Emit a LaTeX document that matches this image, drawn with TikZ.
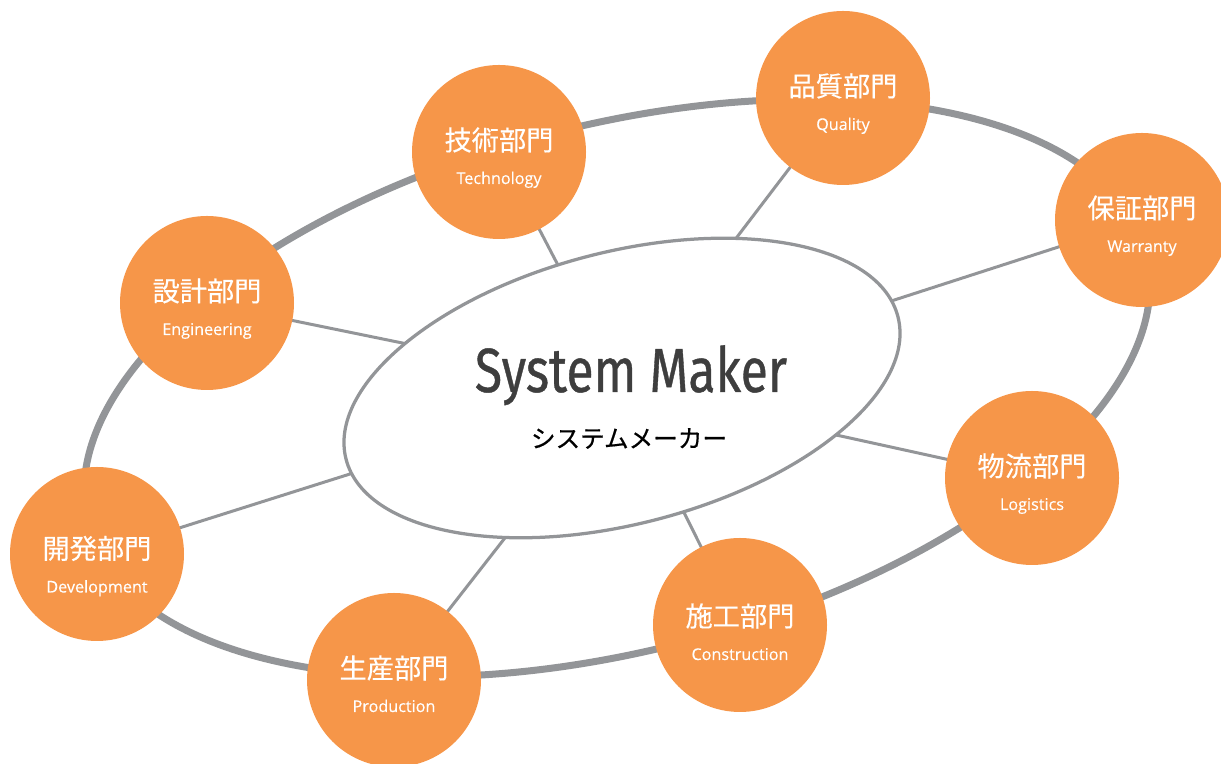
\documentclass[tikz,border=0pt]{standalone}
\usepackage{graphicx}
\usepackage{fontspec}
\setmainfont{Open Sans}[FakeBold=0.3]
\newfontfamily\jpfont{Noto Sans CJK JP}[FakeBold=0.3]
\newfontfamily\subfont{Noto Sans CJK JP}[FakeBold=0.6]
\newfontfamily\titlefont{Fira Sans}[FakeBold=0.7]
\definecolor{deptorange}{RGB}{246,150,73}
\definecolor{ringgray}{RGB}{147,149,152}
\definecolor{titlegray}{RGB}{62,62,62}

\begin{document}
\begin{tikzpicture}[
  ring/.style={draw=ringgray, line width=0.14cm},
  spoke/.style={draw=ringgray, line width=0.06cm},
  core/.style={draw=ringgray, line width=0.065cm, fill=white},
  dept/.style={circle, fill=deptorange, minimum size=3.48cm, inner sep=0pt},
  deptjp/.style={text=white, font=\jpfont\fontsize{15.5}{18}\selectfont},
  depten/.style={text=white, font=\fontsize{9.2}{11}\selectfont, anchor=base},
]
\useasboundingbox (0,0) rectangle (24.42,15.28);

% name / x / y / text shift / label
\def\deptlist{tech/9.98/12.24/0/技術部門/Technology,
  qual/16.86/13.32/0/品質部門/Quality,
  warr/22.84/10.88/0/保証部門/Warranty,
  engi/4.14/9.22/0/設計部門/Engineering,
  logi/20.64/5.72/0/物流部門/Logistics,
  deve/1.94/4.20/-0.13/開発部門/Development,
  cons/14.80/2.78/-0.06/施工部門/Construction,
  prod/7.88/1.68/0/生産部門/Production}

% Outer ring
\coordinate (ringc) at (12.34,7.52);
\draw[ring] (ringc) circle [x radius=10.92cm, y radius=5.26cm, rotate=14.4];

% Spokes from the hub
\coordinate (hub) at (12.44,7.52);
\foreach \name/\x/\y/\dy/\jp/\en in \deptlist {
  \coordinate (c-\name) at (\x,\y);
  \draw[spoke] (hub) -- (c-\name);
}

% System maker
\draw[core] (hub) circle [x radius=5.7cm, y radius=2.72cm, rotate=14.5];
\node[anchor=base, text=titlegray, font=\titlefont\fontsize{35.5}{40}\selectfont] (title) at (12.62,7.44) {\scalebox{0.8}[1]{System Maker}};
\node[font=\subfont\fontsize{14}{16}\selectfont] (subtitle) at (12.58,6.51) {システムメーカー};

% Departments
\foreach \name/\x/\y/\dy/\jp/\en in \deptlist {
  \node[dept] (\name) at (c-\name) {};
  \node[deptjp] (\name-jp) at ([yshift=0.24cm+\dy cm]\name.center) {\jp};
  \node[depten] (\name-en) at ([yshift=-0.64cm+\dy cm]\name.center) {\en};
}

\end{tikzpicture}
\end{document}
